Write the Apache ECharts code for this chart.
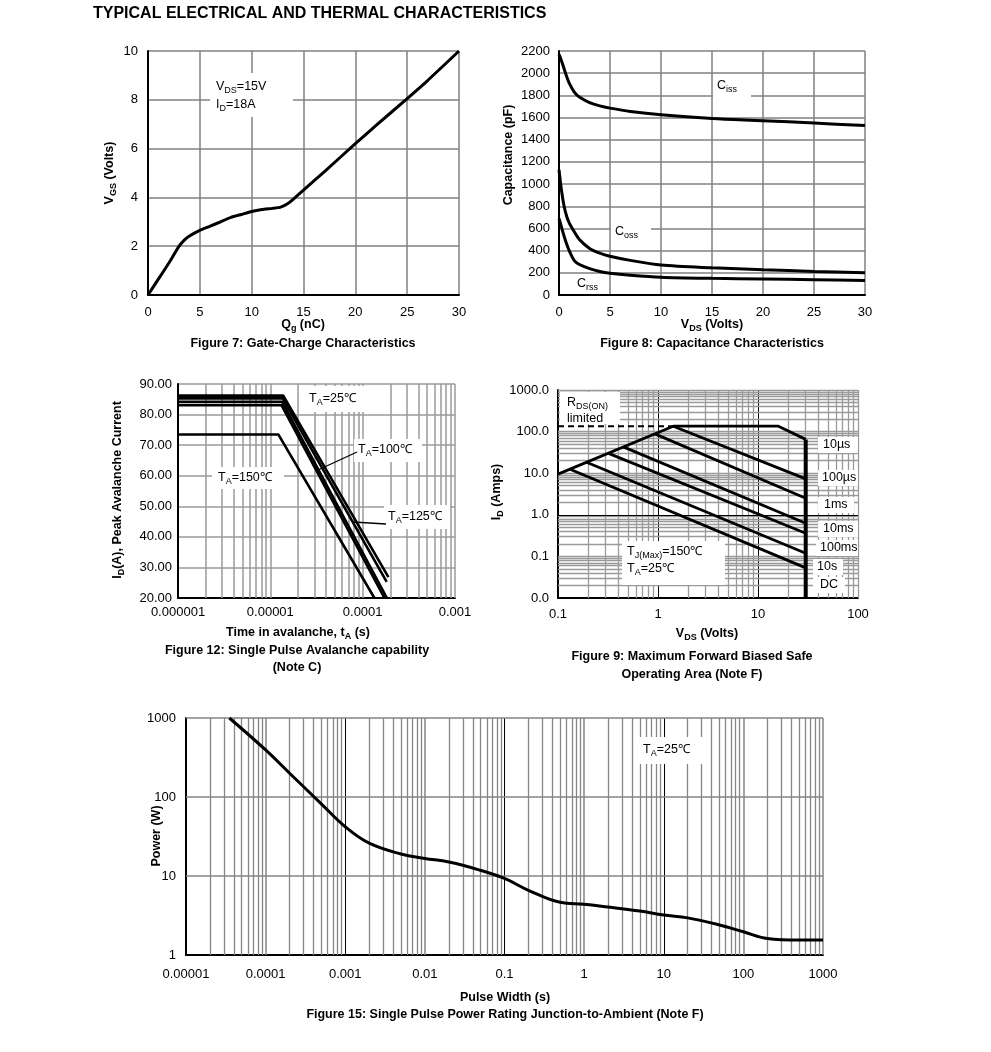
<!DOCTYPE html>
<html><head><meta charset="utf-8">
<script src="https://cdn.jsdelivr.net/npm/echarts@6/dist/echarts.min.js"></script>
<style>html,body{margin:0;padding:0;background:#fff}#c{width:991px;height:1052px}</style>
</head><body><div id="c"></div>
<script>
const FONT = '"Liberation Sans", Arial, Helvetica, sans-serif';

// ---------- Figure 7: Gate charge ----------
const gateQ = [0, 1, 2, 3, 3.5, 4, 5, 6, 7, 8, 9, 10, 11, 12, 12.8, 13.5, 14, 15, 17, 20, 22, 25, 27, 30];
const gateV = [0, 0.65, 1.3, 2.0, 2.25, 2.42, 2.65, 2.82, 3.0, 3.18, 3.3, 3.42, 3.5, 3.55, 3.6, 3.75, 3.92, 4.3, 5.05, 6.2, 6.95, 8.05, 8.8, 10.0];

// ---------- Figure 8: Capacitance ----------
const capVds = [0, 0.25, 0.5, 0.75, 1, 1.5, 2, 3, 4, 5, 7, 10, 15, 20, 25, 30];
const ciss = [2170, 2110, 2040, 1970, 1910, 1830, 1785, 1735, 1705, 1685, 1655, 1625, 1592, 1572, 1550, 1528];
const coss = [1130, 940, 800, 710, 650, 570, 500, 420, 378, 350, 312, 270, 245, 228, 213, 200];
const crss = [690, 610, 530, 460, 400, 310, 275, 238, 212, 196, 178, 160, 150, 145, 138, 130];

// ---------- Figure 12: Avalanche ----------
const avTimeA = [1e-6, 1.38e-5, 1.9e-4],  avCurA = [86.2, 86.2, 26.8];
const avTimeB = [1e-6, 1.36e-5, 1.82e-4], avCurB = [85.3, 85.3, 25.3];
const avTimeC = [1e-6, 1.34e-5, 1.83e-4], avCurC = [84.2, 84.2, 20];
const avTimeD = [1e-6, 1.32e-5, 1.72e-4], avCurD = [83.1, 83.1, 20];
const avTime150 = [1e-6, 1.22e-5, 1.34e-4], avCur150 = [73.5, 73.5, 20];

// ---------- Figure 9: SOA ----------
const soaEnvV = [0.1, 1.42, 16, 30], soaEnvI = [9.5, 135, 135, 65];
const soaWallV = [30, 30], soaWallI = [65, 0.01];
const rdsDashV = [0.1, 1.42], rdsDashI = [135, 135];
const soa100usV = [1.42, 30], soa100usI = [135, 7.3];
const soa1msV = [0.93, 30],   soa1msI = [88, 2.5];
const soa10msV = [0.45, 30],  soa10msI = [43, 0.625];
const soa100msV = [0.32, 30], soa100msI = [30, 0.36];
const soa10sV = [0.193, 30],  soa10sI = [18.3, 0.119];
const soaDcV = [0.132, 30],   soaDcI = [12.5, 0.053];

// ---------- Figure 15: Single pulse power ----------
const pulseW = [3.5e-5, 1e-4, 2e-4, 5e-4, 1e-3, 2e-3, 5e-3, 1e-2, 2e-2, 5e-2, 1e-1, 2e-1, 5e-1, 1, 2, 5, 10, 20, 50, 100, 200, 500, 1000];
const pulseP = [1000, 394, 200, 82, 42, 26, 19, 16.7, 15, 11.8, 9.3, 6.6, 4.65, 4.4, 4.05, 3.6, 3.2, 2.95, 2.4, 1.97, 1.62, 1.55, 1.55];

// ---------- tick labels ----------
const fig12XLabels = ['0.000001', '0.00001', '0.0001', '0.001'];
const fig9XLabels = ['0.1', '1', '10', '100'];
const fig9YLabels = ['0.0', '0.1', '1.0', '10.0', '100.0', '1000.0'];
const fig15XLabels = ['0.00001', '0.0001', '0.001', '0.01', '0.1', '1', '10', '100', '1000'];
const fig15YLabels = ['1', '10', '100', '1000'];

const zip = (xs, ys) => xs.map((x, i) => [x, ys[i]]);
function logMinor(e0, e1) { const out = []; for (let e = e0; e < e1; e++) for (let m = 2; m <= 9; m++) out.push(m * Math.pow(10, e)); return out; }
function logMajor(e0, e1) { const out = []; for (let e = e0; e <= e1; e++) out.push(Math.pow(10, e)); return out; }
const vl = (vals, color, width) => vals.map(v => ({ xAxis: v, lineStyle: { color, width, type: 'solid' } }));
const hl = (vals, color, width) => vals.map(v => ({ yAxis: v, lineStyle: { color, width, type: 'solid' } }));
const logLabel = (labels, e0) => v => labels[Math.round(Math.log10(v)) - e0] || '';

function gridSeries(idx, lines) {
  return { type: 'line', xAxisIndex: idx, yAxisIndex: idx, data: [], silent: true, animation: false,
    markLine: { silent: true, z: 1, precision: 20, animation: false, symbol: ['none', 'none'], label: { show: false },
      emphasis: { disabled: true }, data: lines } };
}
function curve(idx, data, width, extra) {
  return Object.assign({ type: 'line', xAxisIndex: idx, yAxisIndex: idx, data, showSymbol: false, symbol: 'none',
    silent: true, animation: false, z: 3, lineStyle: { color: '#000', width } }, extra || {});
}
function valAxis(idx, min, max, interval, margin, extra) {
  return Object.assign({ type: 'value', gridIndex: idx, min, max, interval,
    axisLine: { show: true, onZero: false, lineStyle: { color: '#000', width: 2 } },
    axisTick: { show: false },
    splitLine: { show: true, lineStyle: { color: '#808080', width: 1.5 } },
    axisLabel: { color: '#000', fontSize: 13, fontFamily: FONT, margin, showMinLabel: true, showMaxLabel: true, formatter: v => String(v) }
  }, extra || {});
}
function logAxis(idx, min, max, labels, e0, margin) {
  return { type: 'log', logBase: 10, gridIndex: idx, min, max,
    axisLine: { show: true, onZero: false, lineStyle: { color: '#000', width: 2 } },
    axisTick: { show: false }, splitLine: { show: false }, minorTick: { show: false },
    axisLabel: { color: '#000', fontSize: 13, fontFamily: FONT, margin, showMinLabel: true, showMaxLabel: true,
      formatter: logLabel(labels, e0) } };
}

function T(x, y, text, o) {
  o = o || {};
  const size = o.size || 12.5, bold = !!o.bold, align = o.align || 'left';
  return { type: 'text', x, y, rotation: o.rot || 0, z: 10,
    style: { text, fill: '#000', fontSize: size, fontWeight: bold ? 'bold' : 'normal', fontFamily: FONT,
      align, textAlign: align, verticalAlign: 'middle', textVerticalAlign: 'middle',
      rich: { s: { fill: '#000', fontSize: Math.round(size * 0.72), fontWeight: bold ? 'bold' : 'normal', fontFamily: FONT, padding: [Math.round(size * 0.55), 0, 0, 0] } } } };
}
const box = (x, y, w, h) => ({ type: 'rect', z: 9, shape: { x, y, width: w, height: h }, style: { fill: '#fff' } });
const lead = (x1, y1, x2, y2) => ({ type: 'line', z: 10, shape: { x1, y1, x2, y2 }, style: { stroke: '#000', lineWidth: 1.3 } });
const B = { bold: true, align: 'center' };
const R = { bold: true, align: 'center', rot: Math.PI / 2 };

const GRAY = '#9a9a9a';
const G15 = '#858585';
const option = {
  backgroundColor: '#fff',
  animation: false,
  grid: [
    { left: 148, top: 51, width: 311, height: 244, containLabel: false, outerBoundsMode: 'none' },
    { left: 559, top: 51, width: 306, height: 244, containLabel: false, outerBoundsMode: 'none' },
    { left: 178, top: 384, width: 277, height: 214, containLabel: false, outerBoundsMode: 'none' },
    { left: 558, top: 390, width: 300, height: 208, containLabel: false, outerBoundsMode: 'none' },
    { left: 186, top: 718, width: 637, height: 237, containLabel: false, outerBoundsMode: 'none' }
  ],
  xAxis: [
    valAxis(0, 0, 30, 5, 11),
    valAxis(1, 0, 30, 5, 11),
    logAxis(2, 1e-6, 1e-3, fig12XLabels, -6, 8),
    logAxis(3, 0.1, 100, fig9XLabels, -1, 10),
    logAxis(4, 1e-5, 1000, fig15XLabels, -5, 13)
  ],
  yAxis: [
    valAxis(0, 0, 10, 2, 10),
    valAxis(1, 0, 2200, 200, 9),
    valAxis(2, 20, 90, 10, 6, { splitLine: { show: true, lineStyle: { color: GRAY, width: 1.5 } },
      axisLabel: { color: '#000', fontSize: 13, fontFamily: FONT, margin: 6, showMinLabel: true, showMaxLabel: true, formatter: v => v.toFixed(2) } }),
    logAxis(3, 0.01, 1000, fig9YLabels, -2, 9),
    logAxis(4, 1, 1000, fig15YLabels, 0, 10)
  ],
  series: [
    // Fig 7
    curve(0, zip(gateQ, gateV), 3, { smooth: 0.15 }),
    // Fig 8
    curve(1, zip(capVds, ciss), 3, { smooth: 0.3 }),
    curve(1, zip(capVds, coss), 3, { smooth: 0.3 }),
    curve(1, zip(capVds, crss), 3, { smooth: 0.3 }),
    // Fig 12
    gridSeries(2, vl(logMinor(-6, -3).concat(logMajor(-5, -3)), GRAY, 1.5)),
    curve(2, zip(avTimeA, avCurA), 2.6),
    curve(2, zip(avTimeB, avCurB), 2.6),
    curve(2, zip(avTimeC, avCurC), 2.6),
    curve(2, zip(avTimeD, avCurD), 2.6),
    curve(2, zip(avTime150, avCur150), 2.6),
    // Fig 9
    gridSeries(3, vl(logMinor(-1, 2), GRAY, 1.3)
      .concat(vl([1, 10], '#000', 1), vl([100], GRAY, 1.3))
      .concat(hl(logMinor(-2, 3), GRAY, 1.3))
      .concat(hl([0.1, 10, 100, 1000], GRAY, 1.3), hl([1], '#000', 1))),
    curve(3, zip(soaEnvV, soaEnvI), 2.8),
    curve(3, zip(soaWallV, soaWallI), 4),
    curve(3, zip(rdsDashV, rdsDashI), 2, { lineStyle: { color: '#000', width: 2, type: [6, 4] } }),
    curve(3, zip(soa100usV, soa100usI), 2.8),
    curve(3, zip(soa1msV, soa1msI), 2.8),
    curve(3, zip(soa10msV, soa10msI), 2.8),
    curve(3, zip(soa100msV, soa100msI), 2.8),
    curve(3, zip(soa10sV, soa10sI), 2.8),
    curve(3, zip(soaDcV, soaDcI), 2.8),
    // Fig 15
    gridSeries(4, vl(logMinor(-5, 3), G15, 1.3)
      .concat(vl([1e-4, 1e-2, 1, 100, 1000], G15, 1.5), vl([1e-3, 1e-1, 10], '#000', 1))
      .concat(hl([10, 100, 1000], G15, 1.5))),
    curve(4, zip(pulseW, pulseP), 3, { smooth: 0.4 })
  ],
  graphic: { elements: [
    T(93, 14, 'TYPICAL ELECTRICAL AND THERMAL CHARACTERISTICS', { size: 16, bold: true }),
    // Fig 7
    box(210, 73, 83, 44),
    T(216, 87, 'V{s|DS}=15V'), T(216, 105, 'I{s|D}=18A'),
    T(110, 173, 'V{s|GS} (Volts)', R),
    T(303, 325, 'Q{s|g} (nC)', B),
    T(303, 344, 'Figure 7: Gate-Charge Characteristics', B),
    // Fig 8
    box(713, 76, 38, 22), T(717, 86, 'C{s|iss}'),
    box(611, 222, 40, 20), T(615, 232, 'C{s|oss}'),
    box(572, 275, 36, 19), T(577, 284, 'C{s|rss}'),
    T(509, 155, 'Capacitance (pF)', R),
    T(712, 325, 'V{s|DS} (Volts)', B),
    T(712, 344, 'Figure 8: Capacitance Characteristics', B),
    // Fig 12
    box(300, 386, 87, 26), T(309, 399, 'T{s|A}=25℃'),
    box(354, 439, 68, 23), T(358, 450, 'T{s|A}=100℃'), lead(318, 470, 357, 452),
    box(384, 505, 66, 24), T(388, 517, 'T{s|A}=125℃'), lead(353, 522, 386, 524),
    box(212, 467, 72, 22), T(218, 478, 'T{s|A}=150℃'),
    T(118, 490, 'I{s|D}(A), Peak Avalanche Current', R),
    T(298, 633, 'Time in avalanche, t{s|A} (s)', B),
    T(297, 651, 'Figure 12: Single Pulse Avalanche capability', B),
    T(297, 668, '(Note C)', B),
    // Fig 9
    box(560, 392, 60, 32), T(567, 403, 'R{s|DS(ON)}'), T(567, 419, 'limited'),
    box(622, 541, 103, 44), T(627, 552, 'T{s|J(Max)}=150℃'), T(627, 569, 'T{s|A}=25℃'),
    box(818, 437, 40, 16), T(823, 445, '10µs'),
    box(818, 470, 40, 16), T(822, 478, '100µs'),
    box(818, 497, 36, 16), T(824, 505, '1ms'),
    box(818, 521, 40, 16), T(823, 529, '10ms'),
    box(816, 540, 42, 16), T(820, 548, '100ms'),
    box(813, 559, 30, 16), T(817, 567, '10s'),
    box(813, 577, 32, 16), T(820, 585, 'DC'),
    T(497, 492, 'I{s|D} (Amps)', R),
    T(707, 634, 'V{s|DS} (Volts)', B),
    T(692, 657, 'Figure 9: Maximum Forward Biased Safe', B),
    T(692, 675, 'Operating Area (Note F)', B),
    // Fig 15
    box(639, 737, 66, 27), T(643, 750, 'T{s|A}=25℃'),
    T(157, 836, 'Power (W)', R),
    T(505, 998, 'Pulse Width (s)', B),
    T(505, 1015, 'Figure 15: Single Pulse Power Rating Junction-to-Ambient (Note F)', B)
  ] }
};
const chart = echarts.init(document.getElementById('c'), null, { renderer: 'canvas' });
chart.setOption(option);
</script>
</body></html>
